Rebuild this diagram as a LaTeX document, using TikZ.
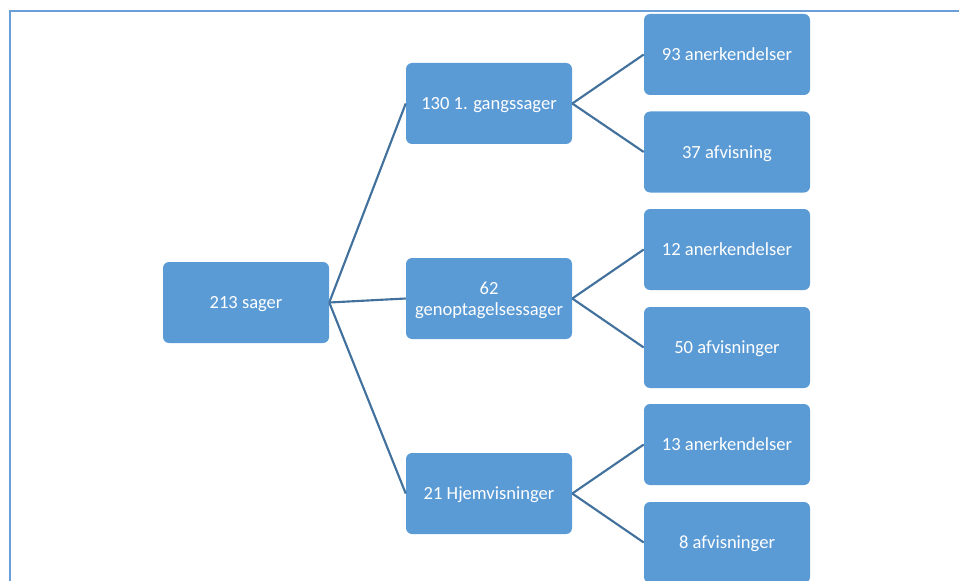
\documentclass[tikz,border=0pt]{standalone}
\usepackage{fontspec}
\setmainfont{Carlito}
\usepackage{tikz}
\usepackage{xcolor}
\definecolor{boxblue}{HTML}{5B9BD5}
\definecolor{linkblue}{HTML}{41719C}
\definecolor{frameblue}{HTML}{6A9FDA}
\tikzstyle{box} = [rectangle, rounded corners=4.5pt, fill=boxblue, draw=none, text=white, align=center, minimum width=124.5pt, minimum height=60.75pt, text depth=0pt, font=\fontsize{13.9}{16}\selectfont]
\tikzstyle{link} = [draw=linkblue, line width=1.6pt]

\begin{document}
\begin{tikzpicture}[x=0.75pt,y=-0.75pt,node distance=146.25pt]
  \useasboundingbox (0,0) rectangle (959,581);
  \draw[frameblue, line width=1.5pt] (10,581) -- (10,11.5) -- (959,11.5);

  \node[box] (sager) at (246,302.5) {213 sager};
  \node[box] (genopt) at (489,298.5) {62\\genoptagelsessager};
  \node[box] (gangs) [above of=genopt] {130 1. gangssager};
  \node[box] (hjemv) [below of=genopt] {21 Hjemvisninger};

  \node[box] (anerk1) at (727,54.5) {93 anerkendelser};
  \node[box] (afvis1) at (727,152) {37 afvisning};
  \node[box] (anerk2) at (727,249.5) {12 anerkendelser};
  \node[box] (afvis2) at (727,347.5) {50 afvisninger};
  \node[box] (anerk3) at (727,444.5) {13 anerkendelser};
  \node[box] (afvis3) at (727,542.5) {8 afvisninger};

  \path (sager.east) edge[link] (gangs.west);
  \path (sager.east) edge[link] (genopt.west);
  \path (sager.east) edge[link] (hjemv.west);
  \path (gangs.east) edge[link] (anerk1.west);
  \path (gangs.east) edge[link] (afvis1.west);
  \path (genopt.east) edge[link] (anerk2.west);
  \path (genopt.east) edge[link] (afvis2.west);
  \path (hjemv.east) edge[link] (anerk3.west);
  \path (hjemv.east) edge[link] (afvis3.west);
\end{tikzpicture}
\end{document}
